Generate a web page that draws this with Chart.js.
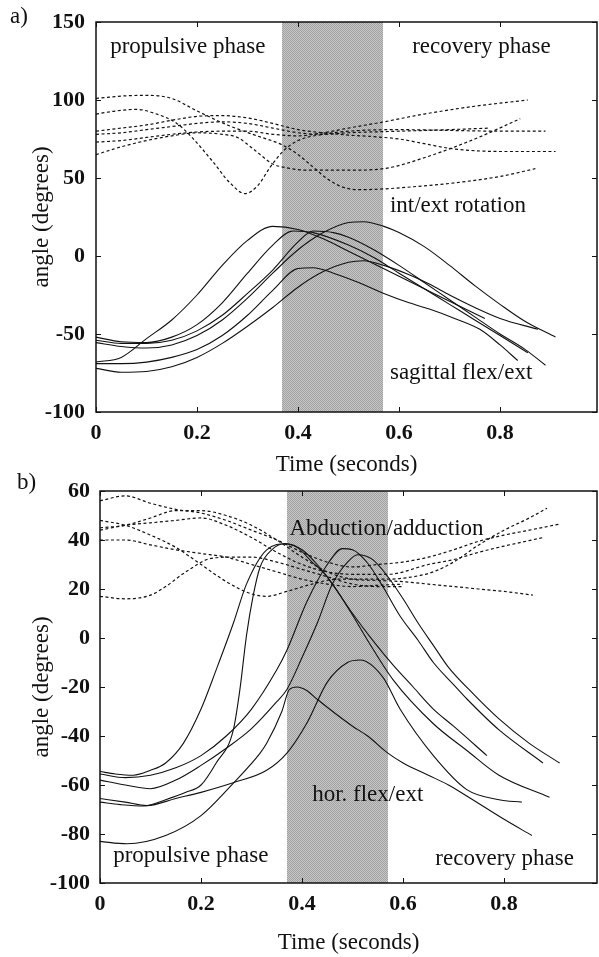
<!DOCTYPE html>
<html>
<head>
<meta charset="utf-8">
<title>Shoulder angles during the stroke</title>
<script src="https://cdn.jsdelivr.net/npm/chart.js@4.4.1/dist/chart.umd.min.js"></script>
<style>
  html, body { margin: 0; padding: 0; background: #fff; }
  #wrap { position: relative; width: 599px; height: 957px; overflow: hidden; }
  .panel { position: absolute; left: 0; }
</style>
</head>
<body>
<div id="wrap">
  <canvas id="chartA" class="panel" width="599" height="480" style="top:0px"></canvas>
  <canvas id="chartB" class="panel" width="599" height="487" style="top:470px"></canvas>
</div>
<script>
// Shoulder joint angles over one stroke cycle, two panels.
// Each curve is a list of [time (s), angle (deg)].

// --- panel a: int/ext rotation (dashed) ---
const rotA1 = [[0,101],[0.05,102.5],[0.1,103],[0.15,101],[0.2,93],[0.26,84],[0.31,78],[0.37,71],[0.4,65],[0.43,57],[0.46,49],[0.49,44],[0.52,42.5],[0.57,43],[0.65,45],[0.7,46.5],[0.8,51],[0.87,56]];
const rotA2 = [[0,91],[0.04,93],[0.08,94],[0.12,91],[0.16,85],[0.19,76],[0.23,61],[0.265,47],[0.295,40],[0.32,45],[0.345,57],[0.37,67],[0.4,74],[0.45,78],[0.5,80],[0.6,81],[0.7,80.5],[0.8,80],[0.89,80]];
const rotA3 = [[0,80],[0.05,82],[0.1,84],[0.15,87],[0.2,89.5],[0.25,90],[0.3,88.5],[0.35,85],[0.4,81],[0.45,79],[0.5,77.5],[0.55,76.5],[0.6,75],[0.65,72],[0.7,69],[0.75,67.5],[0.8,67],[0.91,67]];
const rotA4 = [[0,78],[0.05,79],[0.1,81],[0.15,83],[0.2,85],[0.25,86],[0.3,85],[0.35,82],[0.4,79],[0.45,78],[0.5,79],[0.6,80],[0.7,81],[0.78,82]];
const rotA5 = [[0,73],[0.05,74],[0.1,76],[0.15,78],[0.2,79.5],[0.25,80],[0.3,80],[0.35,78],[0.4,77],[0.45,79],[0.5,82],[0.57,86],[0.65,91],[0.75,96],[0.855,100]];
const rotA6 = [[0,65],[0.05,70],[0.1,74],[0.15,77],[0.2,79],[0.25,78],[0.28,76],[0.31,69],[0.35,59],[0.37,57],[0.42,55],[0.5,55],[0.57,56],[0.65,63],[0.75,75],[0.84,88]];

// --- panel a: sagittal flex/ext (solid) ---
const sagA1 = [[0,-68],[0.05,-65],[0.1,-53],[0.15,-41],[0.2,-25],[0.25,-6],[0.3,10],[0.35,19],[0.4,17],[0.45,11],[0.5,3],[0.55,-5],[0.6,-13],[0.65,-21],[0.7,-29],[0.77,-40]];
const sagA2 = [[0,-52],[0.05,-55],[0.1,-55.5],[0.15,-52],[0.2,-44],[0.25,-30],[0.3,-11],[0.35,7],[0.39,16],[0.43,15],[0.5,7],[0.55,-1],[0.6,-11],[0.65,-21],[0.7,-31],[0.75,-41],[0.8,-51],[0.855,-62]];
const sagA3 = [[0,-54],[0.05,-56],[0.1,-56],[0.15,-54],[0.2,-48],[0.25,-38],[0.3,-24],[0.35,-9],[0.4,9],[0.43,16],[0.47,15],[0.5,12],[0.55,4],[0.6,-6],[0.65,-17],[0.7,-28],[0.75,-39],[0.8,-50],[0.85,-60],[0.89,-70]];
const sagA4 = [[0,-55.5],[0.05,-58],[0.1,-59],[0.15,-57],[0.2,-51],[0.25,-41],[0.3,-27],[0.35,-11],[0.4,4],[0.45,15],[0.5,21.5],[0.53,22],[0.57,19],[0.6,15],[0.65,6],[0.7,-6],[0.75,-19],[0.8,-31],[0.85,-42],[0.91,-52]];
const sagA5 = [[0,-69],[0.05,-69],[0.1,-68],[0.15,-65],[0.2,-60],[0.25,-51],[0.3,-38],[0.35,-22],[0.4,-8],[0.43,-7.5],[0.47,-11],[0.52,-17],[0.57,-24],[0.62,-30],[0.66,-34],[0.71,-40],[0.76,-47],[0.8,-57],[0.835,-67]];
const sagA6 = [[0,-72],[0.05,-74.5],[0.1,-74],[0.15,-71],[0.2,-65],[0.25,-56],[0.3,-45],[0.35,-33],[0.4,-20],[0.45,-10],[0.5,-4],[0.53,-3],[0.57,-6],[0.62,-12],[0.66,-18],[0.7,-25],[0.75,-33],[0.8,-40],[0.875,-47]];

// --- panel b: abduction/adduction (dashed) ---
const abdB1 = [[0,56],[0.05,58],[0.1,55],[0.15,52.5],[0.2,51],[0.25,48],[0.3,44],[0.35,40],[0.4,35],[0.45,31],[0.5,29],[0.55,30],[0.6,31],[0.65,33],[0.7,36],[0.75,39.5],[0.8,42],[0.85,44],[0.91,46.5]];
const abdB2 = [[0,48],[0.05,46],[0.1,42],[0.15,37],[0.2,30],[0.25,23],[0.3,18],[0.33,17],[0.37,19],[0.42,22],[0.47,24],[0.52,24],[0.57,24],[0.62,25],[0.66,27],[0.7,31],[0.75,38],[0.8,44],[0.85,49],[0.885,53]];
const abdB3 = [[0,45],[0.05,46],[0.1,49],[0.15,52],[0.2,52],[0.25,50],[0.3,46],[0.35,40],[0.4,33],[0.45,27],[0.5,24],[0.55,23.5],[0.6,23],[0.65,22],[0.7,21],[0.75,20],[0.8,19],[0.857,17.5]];
const abdB4 = [[0,44],[0.05,46],[0.1,47],[0.15,48],[0.2,49],[0.25,46],[0.3,41],[0.35,35],[0.4,30],[0.45,27],[0.5,26],[0.57,26],[0.65,30],[0.7,32],[0.75,35],[0.8,37.5],[0.877,41]];
const abdB5 = [[0,40],[0.05,40],[0.1,38],[0.15,36],[0.2,34.5],[0.25,33],[0.3,30],[0.35,27],[0.4,24],[0.45,22],[0.5,21],[0.55,21.5],[0.6,22]];
const abdB6 = [[0,17],[0.05,16],[0.1,17.5],[0.13,21],[0.17,27],[0.22,32.5],[0.26,33],[0.3,33],[0.35,31],[0.4,28],[0.45,25],[0.5,22],[0.55,21],[0.6,21]];

// --- panel b: horizontal flex/ext (solid) ---
const horB1 = [[0,-54.5],[0.03,-55.5],[0.066,-56],[0.1,-54],[0.13,-51],[0.165,-43],[0.2,-29],[0.23,-13],[0.264,6],[0.29,22],[0.33,36],[0.37,38.5],[0.4,36],[0.43,30],[0.46,22],[0.5,10],[0.54,-1],[0.58,-11],[0.62,-20],[0.66,-29],[0.7,-36],[0.766,-48]];
const horB2 = [[0,-67],[0.04,-68],[0.086,-68.6],[0.13,-66],[0.17,-63],[0.2,-60],[0.23,-51],[0.264,-37.5],[0.277,-21],[0.29,1],[0.303,17],[0.317,29],[0.34,36],[0.365,38.5],[0.39,37],[0.42,31],[0.45,25],[0.495,11],[0.53,-1],[0.58,-17],[0.66,-35],[0.727,-46],[0.79,-56],[0.89,-65]];
const horB3 = [[0,-55.5],[0.05,-57],[0.1,-56],[0.15,-53],[0.2,-48],[0.25,-40],[0.3,-29],[0.35,-13],[0.37,-5],[0.41,15],[0.45,30],[0.48,36.5],[0.5,36],[0.53,30.5],[0.56,21],[0.594,9],[0.63,-1],[0.66,-10],[0.7,-19],[0.727,-25],[0.79,-37.5],[0.877,-51]];
const horB4 = [[0,-58],[0.05,-60],[0.1,-61.5],[0.15,-58],[0.2,-52],[0.25,-45],[0.3,-37],[0.35,-26],[0.37,-21],[0.4,-8],[0.43,6],[0.46,22],[0.49,31],[0.51,34],[0.54,32],[0.57,25],[0.6,16],[0.63,6],[0.66,-3],[0.69,-12],[0.74,-23],[0.79,-33],[0.85,-43],[0.91,-51]];
const horB5 = [[0,-65.5],[0.05,-67],[0.093,-68.4],[0.15,-65.5],[0.2,-63],[0.265,-59],[0.33,-54],[0.37,-47],[0.41,-34.6],[0.45,-18],[0.49,-10],[0.515,-9],[0.56,-16],[0.594,-29],[0.66,-48],[0.727,-62],[0.79,-66],[0.835,-67]];
const horB6 = [[0,-83],[0.053,-84],[0.13,-80.6],[0.2,-72.5],[0.265,-59],[0.317,-47],[0.33,-43],[0.36,-30],[0.375,-21],[0.39,-20],[0.41,-21.5],[0.43,-25],[0.5,-36],[0.53,-40],[0.57,-47],[0.6,-51],[0.65,-56],[0.69,-60],[0.73,-65],[0.8,-74],[0.855,-80.6]];

// axis ticks and the shaded (glide) interval
const timeTicks = [0, 0.2, 0.4, 0.6, 0.8];
const angleTicksA = [-100, -50, 0, 50, 100, 150];
const angleTicksB = [-100, -80, -60, -40, -20, 0, 20, 40, 60];
const bandA = [0.368, 0.568];
const bandB = [0.371, 0.571];

// text labels inside the plots: [text, time, angle]
const notesA = [
    ['propulsive phase', 0.028, 134],
    ['recovery phase', 0.626, 134],
    ['int/ext rotation', 0.582, 32],
    ['sagittal flex/ext', 0.582, -75]
];
const notesB = [
    ['Abduction/adduction', 0.375, 44.5],
    ['hor. flex/ext', 0.42, -64],
    ['propulsive phase', 0.026, -89],
    ['recovery phase', 0.664, -90]
];

(function() {
    'use strict';

    const SERIF = '"Liberation Serif", "Times New Roman", serif';
    Chart.defaults.font.family = SERIF;
    Chart.defaults.color = '#111';

    // low-contrast dither so the band reads as a flat mid grey
    function shadePattern(ctx) {
        const c = document.createElement('canvas');
        c.width = 2; c.height = 2;
        const g = c.getContext('2d');
        g.fillStyle = '#c6c6c6';
        g.fillRect(0, 0, 2, 2);
        g.fillStyle = '#a2a2a2';
        g.fillRect(0, 0, 1, 1);
        g.fillRect(1, 1, 1, 1);
        return ctx.createPattern(c, 'repeat');
    }

    const panelDecor = {
        id: 'panelDecor',
        beforeDatasetsDraw(chart, args, opts) {
            const {ctx, chartArea: a, scales: {x}} = chart;
            const x0 = x.getPixelForValue(opts.band[0]);
            const x1 = x.getPixelForValue(opts.band[1]);
            ctx.save();
            ctx.fillStyle = shadePattern(ctx);
            ctx.fillRect(Math.round(x0), a.top, Math.round(x1 - x0), a.bottom - a.top);
            ctx.restore();
        },
        afterDatasetsDraw(chart, args, opts) {
            const {ctx, chartArea: a, scales: {x, y}} = chart;
            ctx.save();
            // frame
            ctx.strokeStyle = '#111';
            ctx.lineWidth = 1.5;
            ctx.strokeRect(a.left, a.top, a.right - a.left, a.bottom - a.top);
            // inward tick marks on all four sides
            ctx.lineWidth = 1;
            ctx.beginPath();
            opts.xTicks.forEach(function(v) {
                const px = Math.round(x.getPixelForValue(v)) + 0.5;
                ctx.moveTo(px, a.bottom); ctx.lineTo(px, a.bottom - 5);
                ctx.moveTo(px, a.top); ctx.lineTo(px, a.top + 5);
            });
            opts.yTicks.forEach(function(v) {
                const py = Math.round(y.getPixelForValue(v)) + 0.5;
                ctx.moveTo(a.left, py); ctx.lineTo(a.left + 5, py);
                ctx.moveTo(a.right, py); ctx.lineTo(a.right - 5, py);
            });
            ctx.stroke();
            // notes
            ctx.fillStyle = '#111';
            ctx.font = '23px ' + SERIF;
            ctx.textAlign = 'left';
            ctx.textBaseline = 'middle';
            opts.notes.forEach(function(n) {
                ctx.fillText(n[0], x.getPixelForValue(n[1]), y.getPixelForValue(n[2]));
            });
            // panel letter
            ctx.fillText(opts.letter[0], opts.letter[1], opts.letter[2]);
            ctx.restore();
        }
    };

    function curve(points, dashed) {
        return {
            data: points.map(function(p) { return {x: p[0], y: p[1]}; }),
            borderColor: '#111',
            borderWidth: dashed ? 1.2 : 1.1,
            borderDash: dashed ? [3, 2.5] : [],
            pointRadius: 0,
            fill: false,
            cubicInterpolationMode: 'monotone'
        };
    }

    function makeChart(id, cfg) {
        const ctx = document.getElementById(id);
        if (!ctx) return;

        const tickFont = {size: 22, weight: 'bold', lineHeight: 1};
        const titleFont = {size: 23, lineHeight: 1};

        return new Chart(ctx, {
            type: 'line',
            data: {datasets: cfg.datasets},
            plugins: [panelDecor],
            options: {
                responsive: false,
                animation: false,
                events: [],
                layout: {padding: {top: cfg.top, right: 2, left: 0, bottom: 0}},
                plugins: {
                    legend: {display: false},
                    tooltip: {enabled: false},
                    panelDecor: {
                        band: cfg.band,
                        notes: cfg.notes,
                        letter: cfg.letter,
                        xTicks: timeTicks,
                        yTicks: cfg.yTicks
                    }
                },
                scales: {
                    x: {
                        type: 'linear',
                        min: 0,
                        max: cfg.xMax,
                        afterBuildTicks: function(s) { s.ticks = timeTicks.map(function(v) { return {value: v}; }); },
                        afterFit: function(s) { s.height = cfg.xHeight; },
                        grid: {display: false, drawTicks: false},
                        border: {display: false},
                        ticks: {
                            padding: 10,
                            color: '#111',
                            font: tickFont,
                            maxRotation: 0,
                            autoSkip: false,
                            callback: function(v) { return String(v); }
                        },
                        title: {
                            display: true,
                            text: 'Time (seconds)',
                            color: '#111',
                            font: titleFont,
                            padding: {top: 0, bottom: cfg.xTitlePad}
                        }
                    },
                    y: {
                        type: 'linear',
                        min: cfg.yTicks[0],
                        max: cfg.yTicks[cfg.yTicks.length - 1],
                        afterBuildTicks: function(s) { s.ticks = cfg.yTicks.map(function(v) { return {value: v}; }); },
                        afterFit: function(s) { s.width = cfg.yWidth; },
                        grid: {display: false, drawTicks: false},
                        border: {display: false},
                        ticks: {
                            padding: cfg.yPad,
                            color: '#111',
                            font: tickFont,
                            autoSkip: false,
                            callback: function(v) { return String(v); }
                        },
                        title: {
                            display: true,
                            text: 'angle (degrees)',
                            color: '#111',
                            font: titleFont,
                            padding: {top: 30.5, bottom: 0}
                        }
                    }
                }
            }
        });
    }

    document.addEventListener('DOMContentLoaded', function() {
        makeChart('chartA', {
            datasets: [rotA1, rotA2, rotA3, rotA4, rotA5, rotA6].map(function(c) { return curve(c, true); })
                .concat([sagA1, sagA2, sagA3, sagA4, sagA5, sagA6].map(function(c) { return curve(c, false); })),
            yTicks: angleTicksA,
            band: bandA,
            notes: notesA,
            letter: ['a)', 10, 17],
            top: 20,
            xMax: 0.992,
            xHeight: 68,
            xTitlePad: 3.5,
            yWidth: 96,
            yPad: 11
        });

        makeChart('chartB', {
            datasets: [abdB1, abdB2, abdB3, abdB4, abdB5, abdB6].map(function(c) { return curve(c, true); })
                .concat([horB1, horB2, horB3, horB4, horB5, horB6].map(function(c) { return curve(c, false); })),
            yTicks: angleTicksB,
            band: bandB,
            notes: notesB,
            letter: ['b)', 17, 13],
            top: 19,
            xMax: 0.984,
            xHeight: 74,
            xTitlePad: 2.5,
            yWidth: 100,
            yPad: 10
        });
    });

})();
</script>
</body>
</html>
